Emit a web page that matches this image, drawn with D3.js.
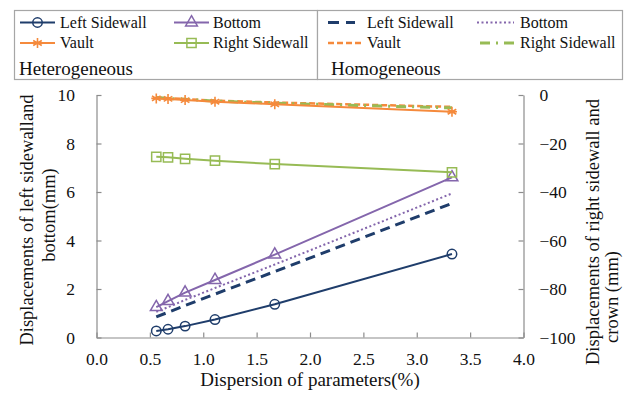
<!DOCTYPE html>
<html>
<head>
<meta charset="utf-8">
<script src="https://cdn.jsdelivr.net/npm/d3@7"></script>
<style>
  html, body { margin: 0; padding: 0; background: #fff; }
</style>
</head>
<body>
<svg id="chart" width="624" height="395"></svg>
<script>
// Dispersion of parameters (%)
const dispersion = [0.56, 0.67, 0.83, 1.11, 1.67, 3.33];

// Heterogeneous model
const hetLeftSidewall  = [0.27, 0.34, 0.47, 0.74, 1.37, 3.44];   // left axis (mm)
const hetBottom        = [1.25, 1.50, 1.85, 2.37, 3.42, 6.60];   // left axis (mm)
const hetVault         = [-1.4, -1.6, -2.1, -2.8, -3.8, -6.9];   // right axis (mm)
const hetRightSidewall = [-25.5, -25.7, -26.3, -27.1, -28.5, -31.9]; // right axis (mm)

// Homogeneous model
const homLeftSidewall  = [0.85, 1.04, 1.32, 1.79, 2.72, 5.53];
const homBottom        = [1.06, 1.25, 1.55, 2.04, 3.01, 5.94];
const homVault         = [-1.0, -1.3, -1.7, -2.3, -3.1, -4.9];
const homRightSidewall = [-1.1, -1.4, -1.8, -2.5, -3.4, -5.3];

const xTicks = [0, 0.5, 1, 1.5, 2, 2.5, 3, 3.5, 4];
const yLeftTicks = [0, 2, 4, 6, 8, 10];
const yRightTicks = [-100, -80, -60, -40, -20, 0];

const C = { left: "#1f3d6b", bottom: "#8466ac", vault: "#f58a3c", right: "#97bb55" };
const FONT = '"Liberation Serif"';
const DASH = { left: "10,6", bottom: "2,2.5", vault: "6,3", right: "10,6,2,6" };

const svg = d3.select("#chart");

const x = d3.scaleLinear().domain([0, 4]).range([96.5, 523.5]);
const yL = d3.scaleLinear().domain([0, 10]).range([337.5, 95]);
const yR = d3.scaleLinear().domain([-100, 0]).range([337.5, 95]);

function label(sel, size) {
  return sel.style("font-family", FONT).attr("font-size", size).attr("fill", "#111");
}

// axes
function styleAxis(g) {
  g.attr("font-family", null);
  g.selectAll("path.domain").attr("stroke", "#8c8c8c").attr("stroke-width", 1.2);
  g.selectAll(".tick line").attr("stroke", "#8c8c8c").attr("stroke-width", 1.2);
  label(g.selectAll("text"), 17.5);
}

svg.append("g").attr("transform", `translate(0,${yL(0)})`)
  .call(d3.axisBottom(x).tickValues(xTicks).tickFormat(d3.format(".1f")).tickSizeInner(-5).tickSizeOuter(0).tickPadding(15.5))
  .call(styleAxis);

svg.append("g").attr("transform", `translate(${x(0)},0)`)
  .call(d3.axisLeft(yL).tickValues(yLeftTicks).tickFormat(d3.format("d")).tickSizeInner(-5).tickSizeOuter(0).tickPadding(21.5))
  .call(styleAxis);

svg.append("g").attr("transform", `translate(${x(4)},0)`)
  .call(d3.axisRight(yR).tickValues(yRightTicks).tickFormat(d3.format("d")).tickSizeInner(-5).tickSizeOuter(0).tickPadding(16))
  .call(styleAxis);

// axis titles
label(svg.append("text").attr("x", 310).attr("y", 386).attr("text-anchor", "middle"), 19)
  .text("Dispersion of parameters(%)");

label(svg.append("text").attr("transform", "translate(33,220) rotate(-90)").attr("text-anchor", "middle"), 18.5)
  .text("Displacements of left sidewalland");
label(svg.append("text").attr("transform", "translate(55,215) rotate(-90)").attr("text-anchor", "middle"), 18.5)
  .text("bottom(mm)");

label(svg.append("text").attr("transform", "translate(599,232) rotate(-90)").attr("text-anchor", "middle"), 18.5)
  .text("Displacements of right sidewall and");
label(svg.append("text").attr("transform", "translate(618,297) rotate(-90)").attr("text-anchor", "middle"), 18.5)
  .text("crown (mm)");

// series
const series = [
  { vals: homLeftSidewall,  y: yL, color: C.left,   dash: DASH.left,   w: 3 },
  { vals: homBottom,        y: yL, color: C.bottom, dash: DASH.bottom, w: 2 },
  { vals: homVault,         y: yR, color: C.vault,  dash: DASH.vault,  w: 2.5 },
  { vals: homRightSidewall, y: yR, color: C.right,  dash: DASH.right,  w: 3 },
  { vals: hetLeftSidewall,  y: yL, color: C.left,   marker: "circle",   w: 2 },
  { vals: hetBottom,        y: yL, color: C.bottom, marker: "triangle", w: 2 },
  { vals: hetVault,         y: yR, color: C.vault,  marker: "star",     w: 2 },
  { vals: hetRightSidewall, y: yR, color: C.right,  marker: "square",   w: 2 }
];

const markerPath = {
  circle: d3.symbol(d3.symbolCircle, 70)(),
  triangle: d3.symbol(d3.symbolTriangle, 60)(),
  square: d3.symbol(d3.symbolSquare, 85)(),
  star: "M0,-5V5M-4.3,-2.5L4.3,2.5M-4.3,2.5L4.3,-2.5M-5,0H5"
};

function drawMarker(g, type, color, cx, cy) {
  g.append("path").attr("d", markerPath[type])
    .attr("transform", `translate(${cx},${cy})`)
    .attr("fill", "none")
    .attr("stroke", color).attr("stroke-width", type === "star" ? 1.6 : 1.5);
}

const plot = svg.append("g");
series.forEach(s => {
  const line = d3.line().x((d, i) => x(dispersion[i])).y(d => s.y(d));
  plot.append("path").datum(s.vals).attr("d", line)
    .attr("fill", "none").attr("stroke", s.color).attr("stroke-width", s.w)
    .attr("stroke-dasharray", s.dash || null);
  if (s.marker) {
    s.vals.forEach((v, i) => drawMarker(plot, s.marker, s.color, x(dispersion[i]), s.y(v)));
  }
});

// legend boxes
const legend = svg.append("g");
legend.append("rect").attr("x", 14.5).attr("y", 10.5).attr("width", 303).attr("height", 69)
  .attr("fill", "#fff").attr("stroke", "#a6a6a6").attr("stroke-width", 1.2);
legend.append("rect").attr("x", 317.5).attr("y", 10.5).attr("width", 305).attr("height", 69)
  .attr("fill", "#fff").attr("stroke", "#a6a6a6").attr("stroke-width", 1.2);

const hetItems = [
  { label: "Left Sidewall", color: C.left, marker: "circle", x0: 20, x1: 55, tx: 60, y: 22.5 },
  { label: "Bottom", color: C.bottom, marker: "triangle", x0: 174, x1: 209, tx: 213, y: 22.5 },
  { label: "Vault", color: C.vault, marker: "star", x0: 20, x1: 55, tx: 60, y: 43 },
  { label: "Right Sidewall", color: C.right, marker: "square", x0: 174, x1: 209, tx: 213, y: 43 }
];
hetItems.forEach(it => {
  legend.append("line").attr("x1", it.x0).attr("x2", it.x1).attr("y1", it.y).attr("y2", it.y)
    .attr("stroke", it.color).attr("stroke-width", 2);
  drawMarker(legend, it.marker, it.color, (it.x0 + it.x1) / 2, it.y);
  label(legend.append("text").attr("x", it.tx).attr("y", it.y + 5), 16).text(it.label);
});
label(legend.append("text").attr("x", 19).attr("y", 75), 19).text("Heterogeneous");

const homItems = [
  { label: "Left Sidewall", color: C.left, dash: "11,7", w: 3, x0: 328, x1: 355, tx: 367, y: 22.5 },
  { label: "Bottom", color: C.bottom, dash: DASH.bottom, w: 2, x0: 477, x1: 514, tx: 520, y: 22.5 },
  { label: "Vault", color: C.vault, dash: DASH.vault, w: 2.5, x0: 328, x1: 364, tx: 367, y: 43 },
  { label: "Right Sidewall", color: C.right, dash: DASH.right, w: 3, x0: 480, x1: 518, tx: 520, y: 43 }
];
homItems.forEach(it => {
  legend.append("line").attr("x1", it.x0).attr("x2", it.x1).attr("y1", it.y).attr("y2", it.y)
    .attr("stroke", it.color).attr("stroke-width", it.w).attr("stroke-dasharray", it.dash);
  label(legend.append("text").attr("x", it.tx).attr("y", it.y + 5), 16).text(it.label);
});
label(legend.append("text").attr("x", 331).attr("y", 75), 19).text("Homogeneous");
</script>
</body>
</html>
